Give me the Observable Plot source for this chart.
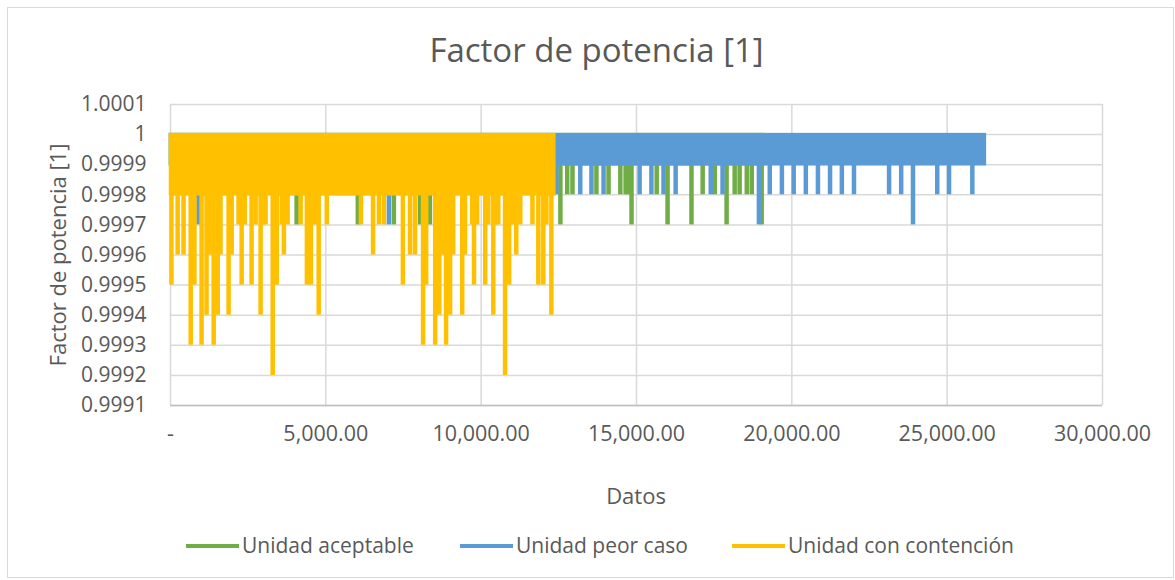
<!DOCTYPE html>
<html>
<head>
<meta charset="utf-8">
<script src="https://cdn.jsdelivr.net/npm/d3@7"></script>
<script src="https://cdn.jsdelivr.net/npm/@observablehq/plot@0.6"></script>
<style>
  body { margin: 0; background: #fff; }
  #chart { position: relative; width: 1175px; height: 580px; background: #fff; font-family: "Open Sans", sans-serif; color: #595959; overflow: hidden; }
  #border { position: absolute; left: 7px; top: 7px; width: 1165px; height: 569px; border: 1px solid #d9d9d9; }
  #title { position: absolute; left: 9px; width: 1175px; top: 27px; line-height: 46px; font-size: 33px; text-align: center; }
  #xtitle { position: absolute; left: 170px; width: 932px; top: 481px; line-height: 28px; font-size: 22px; text-align: center; }
  #ytitle { position: absolute; left: -93px; top: 241px; width: 300px; height: 28px; line-height: 28px; font-size: 22px; text-align: center; transform: rotate(-90deg); transform-origin: 150px 14px; }
  #legend { position: absolute; left: 0; top: 531px; width: 1175px; height: 28px; font-size: 21px; }
  .item { position: absolute; top: 0; line-height: 28px; white-space: nowrap; }
  .sw { display: inline-block; width: 53px; height: 4px; vertical-align: middle; margin-right: 3px; position: relative; top: -1px; }
  #plot { position: absolute; left: 0; top: 0; }
</style>
</head>
<body>
<div id="chart">
  <div id="border"></div>
  <div id="title">Factor de potencia [1]</div>
  <div id="plot"></div>
  <div id="xtitle">Datos</div>
  <div id="ytitle">Factor de potencia [1]</div>
  <div id="legend"></div>
</div>
<script>
// ---------- data ----------
const seriesNames = ["Unidad aceptable", "Unidad peor caso", "Unidad con contención"];
const seriesColors = ["#70AD47", "#5B9BD5", "#FFC000"];
// dense oscillation band of each series (x range and value range)
const bandStart = [0, 0, 0];
const bandEnd = [19100, 26230, 12370];
const bandLow = [0.9999, 0.9999, 0.9998];
const bandHigh = [1.0, 1.0, 1.0];

// isolated drops below the band
const greenDipX = [4060, 6030, 7190, 8030, 8350, 12550, 12770, 12940, 13710, 14100, 14480, 14650, 14740, 14840, 15650, 16000, 16770, 17130, 17520, 17900, 18160, 18320, 18550, 18710, 19030];
const greenDipY = [0.9997, 0.9997, 0.9997, 0.9997, 0.9997, 0.9997, 0.9998, 0.9998, 0.9998, 0.9998, 0.9998, 0.9998, 0.9998, 0.9997, 0.9998, 0.9997, 0.9997, 0.9998, 0.9998, 0.9997, 0.9998, 0.9998, 0.9998, 0.9998, 0.9997];

const blueDipX = [900, 7030, 12420, 13190, 13550, 13940, 15100, 15480, 15870, 16260, 17390, 17770, 18940, 19290, 19680, 20060, 20450, 20840, 21230, 21610, 22000, 23130, 23520, 23900, 24680, 25060, 25810];
const blueDipY = [0.9997, 0.9997, 0.9998, 0.9998, 0.9998, 0.9998, 0.9998, 0.9998, 0.9998, 0.9998, 0.9998, 0.9998, 0.9997, 0.9998, 0.9998, 0.9998, 0.9998, 0.9998, 0.9998, 0.9998, 0.9998, 0.9998, 0.9998, 0.9997, 0.9998, 0.9998, 0.9998];

const yellowDipX = [30, 230, 420, 650, 770, 1000, 1160, 1260, 1390, 1520, 1610, 1870, 1970, 2190, 2290, 2390, 2610, 2740, 2900, 3000, 3060, 3290, 3420, 3580, 3650, 3770, 4190, 4390, 4520, 4650, 4770, 5030, 6130, 6520, 6710, 6870, 7480, 7710, 7870, 8130, 8230, 8520, 8650, 8740, 8870, 9000, 9100, 9390, 9480, 9710, 9770, 9870, 10130, 10230, 10390, 10480, 10550, 10770, 10900, 11000, 11130, 11260, 11650, 11840, 12000, 12100, 12260];
const yellowDipY = [0.9995, 0.9996, 0.9996, 0.9993, 0.9995, 0.9993, 0.9994, 0.9996, 0.9993, 0.9994, 0.9996, 0.9994, 0.9996, 0.9997, 0.9995, 0.9997, 0.9995, 0.9997, 0.9994, 0.9997, 0.9997, 0.9992, 0.9995, 0.9997, 0.9996, 0.9997, 0.9997, 0.9995, 0.9995, 0.9997, 0.9994, 0.9997, 0.9997, 0.9996, 0.9997, 0.9997, 0.9995, 0.9996, 0.9996, 0.9993, 0.9995, 0.9993, 0.9994, 0.9996, 0.9993, 0.9994, 0.9996, 0.9994, 0.9996, 0.9997, 0.9995, 0.9997, 0.9995, 0.9997, 0.9994, 0.9997, 0.9997, 0.9992, 0.9995, 0.9997, 0.9996, 0.9997, 0.9997, 0.9995, 0.9995, 0.9997, 0.9994];

const xTickValues = [0, 5000, 10000, 15000, 20000, 25000, 30000];
const xTickLabels = ["-", "5,000.00", "10,000.00", "15,000.00", "20,000.00", "25,000.00", "30,000.00"];
const yTickValues = [0.9991, 0.9992, 0.9993, 0.9994, 0.9995, 0.9996, 0.9997, 0.9998, 0.9999, 1.0, 1.0001];
const yTickLabels = ["0.9991", "0.9992", "0.9993", "0.9994", "0.9995", "0.9996", "0.9997", "0.9998", "0.9999", "1", "1.0001"];

// ---------- build ----------
const bands = seriesNames.map((s, i) => ({series: s, x1: bandStart[i], x2: bandEnd[i], y1: bandLow[i], y2: bandHigh[i]}));
const dipSets = [
  greenDipX.map((x, i) => ({x, y1: bandLow[0], y2: greenDipY[i]})),
  blueDipX.map((x, i) => ({x, y1: bandLow[1], y2: blueDipY[i]})),
  yellowDipX.map((x, i) => ({x, y1: bandLow[2], y2: yellowDipY[i]}))
];
const lookup = (vals, labels) => d => {
  const i = vals.findIndex(v => Math.abs(v - d) < 1e-9);
  return i >= 0 ? labels[i] : "";
};

const seriesMarks = [];
seriesNames.forEach((s, i) => {
  seriesMarks.push(Plot.rect([bands[i]], {x1: "x1", x2: "x2", y1: "y1", y2: "y2", fill: seriesColors[i], stroke: seriesColors[i], strokeWidth: 2.5}));
  seriesMarks.push(Plot.ruleX(dipSets[i], {x: "x", y1: "y1", y2: "y2", stroke: seriesColors[i], strokeWidth: 4.5}));
});

const chart = Plot.plot({
  width: 1175,
  height: 580,
  marginLeft: 170,
  marginRight: 73,
  marginTop: 104,
  marginBottom: 175,
  style: {fontFamily: "'Open Sans', sans-serif", fontSize: "21px", color: "#595959", background: "transparent"},
  x: {domain: [0, 30000]},
  y: {domain: [0.9991, 1.0001]},
  marks: [
    Plot.gridY(yTickValues, {stroke: "#d9d9d9", strokeOpacity: 1, strokeWidth: 1.5}),
    Plot.gridX(xTickValues, {stroke: "#d9d9d9", strokeOpacity: 1, strokeWidth: 1.5}),
    Plot.ruleY([0.9991], {stroke: "#bfbfbf", strokeWidth: 1.5}),
    ...seriesMarks,
    Plot.axisX(xTickValues, {tickSize: 0, tickPadding: 20, tickFormat: lookup(xTickValues, xTickLabels), fill: "#595959", fontSize: 21.5, label: null}),
    Plot.axisY(yTickValues, {tickSize: 0, tickPadding: 24, tickFormat: lookup(yTickValues, yTickLabels), fill: "#595959", fontSize: 21, label: null})
  ]
});
document.getElementById("plot").appendChild(chart);

// legend
const legend = document.getElementById("legend");
const legendX = [186, 460, 732];
seriesNames.forEach((s, i) => {
  const d = document.createElement("div");
  d.className = "item";
  d.style.left = legendX[i] + "px";
  const sw = document.createElement("span");
  sw.className = "sw";
  sw.style.background = seriesColors[i];
  d.appendChild(sw);
  d.appendChild(document.createTextNode(s));
  legend.appendChild(d);
});
</script>
</body>
</html>
